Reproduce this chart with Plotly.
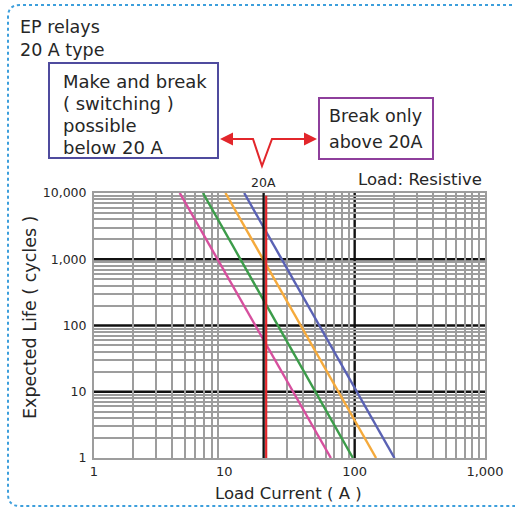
import plotly.graph_objects as go

# ---- chart data -------------------------------------------------------
# Endurance lines are straight on log-log axes: current (A) at 10,000 and at 1 cycle
life_cycles = [10000, 1]
current_pink = [4.55, 65.7]
current_green = [6.85, 97.0]
current_orange = [10.2, 146.0]
current_blue = [14.2, 202.0]

line_colors = ["#d6509e", "#3c9c4a", "#f5aa3c", "#5a62b4"]

x_tickvals = [1, 10, 100, 1000]
x_ticktext = ["1", "10", "100", "1,000"]
y_tickvals = [1, 10, 100, 1000, 10000]
y_ticktext = ["1", "10", "100", "1,000", "10,000"]

rated_current = 20          # A, switching limit
bold_y_lines = [10, 100, 1000]
bold_x_lines = [100]

# minor grid: 2..9 in each decade (x skips the 10 A line)
x_grid = [k * 10 ** d for d in range(3) for k in range(2, 10)]
y_grid = [k * 10 ** d for d in range(4) for k in range(2, 10)]

# ---- page geometry ----------------------------------------------------
W, H = 515, 510
PL, PR, PT, PB = 94, 485, 193, 458   # plotting box in page pixels

def fx(px):
    return (px - PL) / (PR - PL)

def fy(py):
    return (PB - py) / (PB - PT)

FONT = "DejaVu Sans, Verdana, sans-serif"
TXT = "#262626"
GRID = "#9d9d9d"
RED = "#e2262b"

fig = go.Figure()

for xs, col in zip([current_pink, current_green, current_orange, current_blue], line_colors):
    fig.add_trace(go.Scatter(
        x=xs, y=life_cycles, mode="lines",
        line=dict(color=col, width=2.4),
        showlegend=False, hoverinfo="skip",
    ))

shapes = []
# bold decade lines
for v in bold_y_lines:
    shapes.append(dict(type="line", xref="paper", yref="y", x0=0, x1=1, y0=v, y1=v,
                       line=dict(color="#111111", width=2.4), layer="between"))
for v in bold_x_lines:
    shapes.append(dict(type="line", xref="x", yref="paper", x0=v, x1=v, y0=0, y1=1,
                       line=dict(color="#111111", width=2.4), layer="between"))
# 20 A marker: black rule with a red rule beside it
shapes.append(dict(type="line", xref="x", yref="paper", x0=rated_current, x1=rated_current,
                   y0=0, y1=1, line=dict(color="#111111", width=2.2), layer="above"))
shapes.append(dict(type="line", xref="x", xsizemode="pixel", xanchor=rated_current,
                   x0=2.6, x1=2.6, yref="paper", y0=0, y1=0.99,
                   line=dict(color=RED, width=2.2), layer="above"))

# note boxes
shapes.append(dict(type="rect", xref="paper", yref="paper",
                   x0=fx(49), x1=fx(218), y0=fy(158), y1=fy(63),
                   line=dict(color="#4f4b9e", width=2)))
shapes.append(dict(type="rect", xref="paper", yref="paper",
                   x0=fx(319), x1=fx(433), y0=fy(159), y1=fy(98),
                   line=dict(color="#8e3f9c", width=2)))

# red V connector between the two notes
shapes.append(dict(type="path", xref="paper", yref="paper",
                   path=f"M {fx(226)},{fy(139)} L {fx(253)},{fy(139)} L {fx(262)},{fy(166)} "
                        f"L {fx(272)},{fy(139)} L {fx(308)},{fy(139)}",
                   line=dict(color=RED, width=2)))

# dotted rounded frame around the panel
r = 12
L0, T0, B0, R0 = 8, 5, 506, 530
shapes.append(dict(type="path", xref="paper", yref="paper",
                   path=(f"M {fx(R0)},{fy(T0)} L {fx(L0 + r)},{fy(T0)} "
                         f"Q {fx(L0)},{fy(T0)} {fx(L0)},{fy(T0 + r)} "
                         f"L {fx(L0)},{fy(B0 - r)} Q {fx(L0)},{fy(B0)} {fx(L0 + r)},{fy(B0)} "
                         f"L {fx(R0)},{fy(B0)}"),
                   line=dict(color="#3d9fdc", width=2, dash="dot")))

annotations = []

def text(s, px, py, size, xanchor="left", yanchor="middle", angle=0, align="left"):
    annotations.append(dict(text=s, xref="paper", yref="paper", x=fx(px), y=fy(py),
                            xanchor=xanchor, yanchor=yanchor, textangle=angle, align=align,
                            showarrow=False, font=dict(family=FONT, size=size, color=TXT)))

# heading
text("EP relays<br>20 A type", 18, 39, 17.5)
# left note
for i, s in enumerate(["Make and break", "( switching )", "possible", "below 20 A"]):
    text(s, 61, 81 + 22.3 * i, 18)
# right note
text("Break only", 327, 116, 17.5)
text("above 20A", 327, 142, 17.5)
# labels above the plot
text("20A", 263, 182, 12.5, xanchor="center")
text("Load: Resistive", 484, 179, 16.5, xanchor="right")
# axis titles
text("Load Current ( A )", 288, 493, 16.5, xanchor="center")
text("Expected Life ( cycles )", 30, 318, 17.5, xanchor="center", angle=-90)

# arrow heads
for tip, tail in [(220, 236), (317, 300)]:
    annotations.append(dict(xref="paper", yref="paper", x=fx(tip), y=fy(139),
                            ax=tail - tip, ay=0, axref="pixel", ayref="pixel",
                            text="", showarrow=True, arrowhead=2, arrowsize=1.3,
                            arrowwidth=2, arrowcolor=RED))

fig.update_layout(
    width=W, height=H,
    margin=dict(l=PL, r=W - PR, t=PT, b=H - PB),
    paper_bgcolor="white", plot_bgcolor="white",
    shapes=shapes, annotations=annotations,
    xaxis=dict(type="log", range=[0, 3], tickmode="array", tickvals=x_tickvals,
               ticktext=x_ticktext, showgrid=False, zeroline=False,
               showline=True, mirror=True, linecolor=GRID, linewidth=2, ticks="",
               tickfont=dict(family=FONT, size=13, color=TXT),
               minor=dict(tickmode="array", tickvals=x_grid, showgrid=True,
                          gridcolor=GRID, gridwidth=1.6, ticks="")),
    yaxis=dict(type="log", range=[0, 4], tickmode="array", tickvals=y_tickvals,
               ticktext=y_ticktext, showgrid=False, zeroline=False,
               showline=True, mirror=True, linecolor=GRID, linewidth=2, ticks="",
               tickfont=dict(family=FONT, size=12.5, color=TXT), ticklabelstandoff=3,
               minor=dict(tickmode="array", tickvals=y_grid, showgrid=True,
                          gridcolor=GRID, gridwidth=1.6, ticks="")),
)

fig.write_html("out.html")
